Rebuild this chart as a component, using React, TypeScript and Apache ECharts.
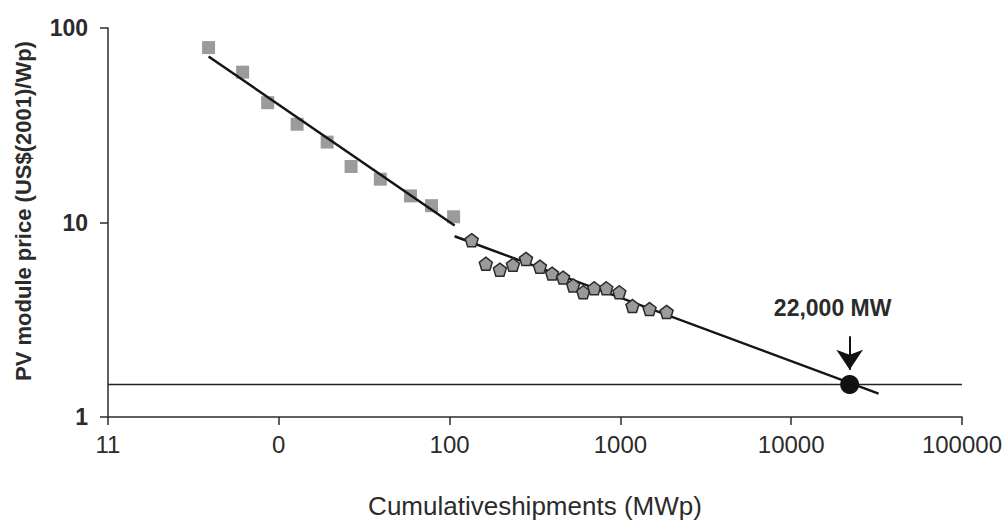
import React, { useEffect, useRef } from "react";
import * as echarts from "echarts";

// Learning-curve data
const earlyShipments = [3.88, 6.14, 8.61, 12.8, 19.2, 26.5, 39.3, 59.0, 78.4, 105.6];
const earlyPrices = [79.3, 59.3, 41.3, 32.0, 25.9, 19.4, 16.7, 13.7, 12.2, 10.7];

const lateShipments = [134.7, 163, 197, 235, 280, 338, 398, 462, 529, 606, 703, 827, 986, 1177, 1482, 1865];
const latePrices = [8.11, 6.14, 5.72, 6.06, 6.5, 5.93, 5.46, 5.21, 4.75, 4.38, 4.59, 4.59, 4.38, 3.72, 3.59, 3.47];

const fit1X = [3.88, 107];
const fit1Y = [71.4, 9.66];
const fit2X = [107, 32500];
const fit2Y = [8.5, 1.32];

const targetShipment = 22000;
const targetPrice = 1.47;
const targetLabel = "22,000 MW";
const arrowTop = 2.6;
const arrowTip = 1.75;

const xRange = [1, 100000];
const yRange = [1, 100];
const xTickLabels = ["11", "0", "100", "1000", "10000", "100000"];
const yTickLabels = ["1", "10", "100"];

const xTitle = "Cumulativeshipments (MWp)";
const yTitle = "PV module price (US$(2001)/Wp)";

const pentagon = "path://M50,0 L97.6,34.5 L79.4,90.5 L20.6,90.5 L2.4,34.5 Z";

export default function App() {
  const ref = useRef<HTMLDivElement>(null);
  useEffect(() => {
    if (!ref.current) return;
    const chart = echarts.init(ref.current, null, { renderer: "svg" });
    const zip = (xs: number[], ys: number[]) => xs.map((x, i) => [x, ys[i]]);
    const axisColor = "#2b2b2b";
    const font = "'Liberation Sans', Arial, sans-serif";
    chart.setOption({
      animation: false,
      backgroundColor: "#ffffff",
      grid: { left: 108, top: 28, right: 43, bottom: 100, containLabel: false },
      xAxis: {
        type: "log",
        logBase: 10,
        min: xRange[0],
        max: xRange[1],
        name: xTitle,
        nameLocation: "middle",
        nameGap: 76,
        nameTextStyle: { fontFamily: font, fontSize: 26, color: "#2b2b2b" },
        axisLine: { show: true, lineStyle: { color: axisColor, width: 1.5 } },
        axisTick: { show: true, length: 8, lineStyle: { color: axisColor, width: 1.5 } },
        minorTick: { show: false },
        splitLine: { show: false },
        axisLabel: {
          margin: 15,
          fontSize: 24,
          color: "#2b2b2b",
          fontFamily: font,
          formatter: (v: number) => {
            const i = Math.round(Math.log10(v));
            return xTickLabels[i] ?? "";
          },
        },
      },
      yAxis: {
        type: "log",
        logBase: 10,
        min: yRange[0],
        max: yRange[1],
        axisLine: { show: true, lineStyle: { color: axisColor, width: 1.5 } },
        axisTick: { show: true, length: 8, lineStyle: { color: axisColor, width: 1.5 } },
        minorTick: { show: false },
        splitLine: { show: false },
        axisLabel: {
          margin: 20,
          fontSize: 23,
          fontWeight: "bold",
          color: "#2b2b2b",
          fontFamily: font,
          formatter: (v: number) => {
            const i = Math.round(Math.log10(v));
            return yTickLabels[i] ?? "";
          },
        },
      },
      graphic: [
        {
          type: "text",
          x: 23,
          y: 211,
          rotation: Math.PI / 2,
          style: {
            text: yTitle,
            fontSize: 22,
            fontWeight: "bold",
            fontFamily: font,
            fill: "#2b2b2b",
            textAlign: "center",
            textVerticalAlign: "middle",
          },
        },
      ],
      series: [
        {
          type: "line",
          data: zip([xRange[0], xRange[1]], [targetPrice, targetPrice]),
          symbol: "none",
          lineStyle: { color: "#222", width: 1.5 },
          z: 1,
        },
        {
          type: "line",
          data: zip(fit1X, fit1Y),
          symbol: "none",
          lineStyle: { color: "#151515", width: 2.5 },
          z: 3,
        },
        {
          type: "line",
          data: zip(fit2X, fit2Y),
          symbol: "none",
          lineStyle: { color: "#151515", width: 2.5 },
          z: 3,
        },
        {
          type: "scatter",
          data: zip(earlyShipments, earlyPrices),
          symbol: "rect",
          symbolSize: 13,
          itemStyle: { color: "#9b9b9b", opacity: 1 },
          z: 2,
        },
        {
          type: "scatter",
          data: zip(lateShipments, latePrices),
          symbol: pentagon,
          symbolSize: 13,
          itemStyle: { color: "#9a9a9a", borderColor: "#2a2a2a", borderWidth: 1.5, opacity: 1 },
          z: 4,
        },
        {
          type: "scatter",
          data: [[targetShipment, targetPrice]],
          symbol: "circle",
          symbolSize: 19,
          itemStyle: { color: "#111", opacity: 1 },
          z: 5,
          label: {
            show: true,
            position: "top",
            distance: 55,
            offset: [-17, 0],
            formatter: targetLabel,
            fontSize: 23,
            fontWeight: "bold",
            color: "#2b2b2b",
            fontFamily: font,
          },
          markLine: {
            silent: true,
            symbol: ["none", "arrow"],
            symbolSize: [20, 20],
            label: { show: false },
            lineStyle: { color: "#111", width: 2, type: "solid" },
            data: [[{ coord: [targetShipment, arrowTop] }, { coord: [targetShipment, arrowTip] }]],
          },
        },
      ],
    });
    return () => chart.dispose();
  }, []);
  return (
    <div
      ref={ref}
      style={{ position: "fixed", left: 0, top: 0, width: 1005, height: 524, background: "#fff" }}
    />
  );
}
